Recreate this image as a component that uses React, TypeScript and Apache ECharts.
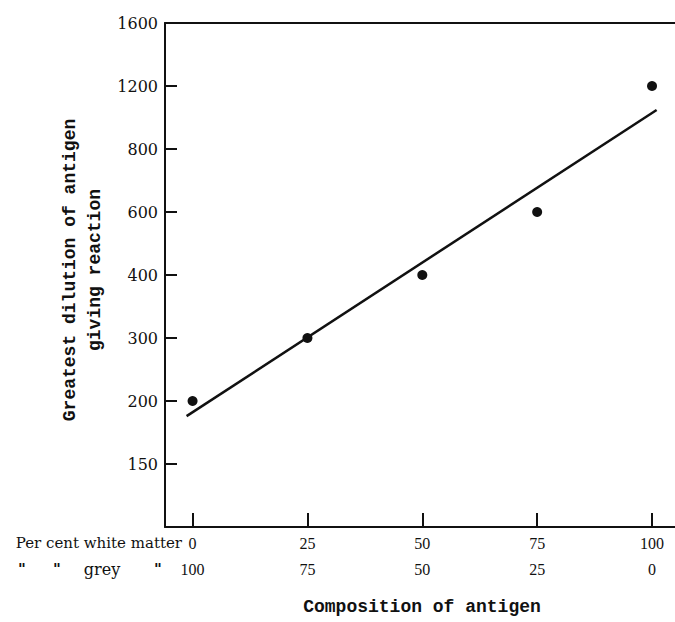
import React, { useEffect, useRef } from "react";
import * as echarts from "echarts";

// Dilution levels shown on the y axis (equally spaced steps, bottom to top)
const yLevels = [150, 200, 300, 400, 600, 800, 1200, 1600];
// Percent white matter (x) and measured greatest dilution
const whiteMatter = [0, 25, 50, 75, 100];
const dilution = [200, 300, 400, 600, 1200];
// Fitted line endpoints, [percent white matter, dilution step position]
const fitLine: [number, number][] = [
  [-1.3, 0.76],
  [101, 5.62],
];
const xTicks = [0, 25, 50, 75, 100];

export default function App() {
  const ref = useRef<HTMLDivElement>(null);
  useEffect(() => {
    if (!ref.current) return;
    document.body.style.margin = "0";
    document.body.style.overflow = "hidden";
    const chart = echarts.init(ref.current, null, { renderer: "svg" });
    const ink = "#111";
    const points = whiteMatter.map((x, i) => [x, yLevels.indexOf(dilution[i])]);
    const ditto = (x: number) => ({
      type: "text",
      x,
      y: 569,
      style: { text: "\"", align: "center", verticalAlign: "middle", fontFamily: "DejaVu Serif", fontWeight: "bold", fontSize: 15, fill: ink },
    });
    chart.setOption({
      animation: false,
      backgroundColor: "#fff",
      grid: { left: 165, top: 23, right: 0, bottom: 95, containLabel: false, outerBoundsMode: "none" },
      xAxis: [
        {
          type: "value",
          min: -6,
          max: 105,
          splitLine: { show: false },
          axisLine: { show: true, onZero: false, lineStyle: { color: ink, width: 2 } },
          axisTick: {
            show: true,
            inside: true,
            length: 14,
            customValues: xTicks,
            lineStyle: { color: ink, width: 2 },
          },
          axisLabel: {
            customValues: xTicks,
            margin: 3,
            formatter: (v: number) => `${v}\n${100 - v}`,
            color: ink,
            fontFamily: "Liberation Serif",
            fontSize: 16,
            lineHeight: 26,
          },
        },
        {
          type: "value",
          position: "top",
          min: -6,
          max: 105,
          splitLine: { show: false },
          axisLine: { show: true, onZero: false, lineStyle: { color: ink, width: 2 } },
          axisTick: { show: false },
          axisLabel: { show: false },
        },
      ],
      yAxis: {
        type: "value",
        min: -1,
        max: 7,
        interval: 1,
        splitLine: { show: false },
        axisLine: { show: true, onZero: false, lineStyle: { color: ink, width: 2 } },
        axisTick: {
          show: true,
          inside: true,
          length: 12,
          customValues: [0, 1, 2, 3, 4, 5, 6],
          lineStyle: { color: ink, width: 2 },
        },
        axisLabel: {
          customValues: [0, 1, 2, 3, 4, 5, 6, 7],
          margin: 7,
          formatter: (v: number) => (yLevels[v] !== undefined ? String(yLevels[v]) : ""),
          color: ink,
          fontFamily: "DejaVu Serif",
          fontSize: 16,
        },
      },
      series: [
        {
          type: "line",
          data: fitLine,
          showSymbol: false,
          lineStyle: { color: ink, width: 2.5 },
        },
        {
          type: "scatter",
          data: points,
          symbolSize: 10,
          itemStyle: { color: ink, opacity: 1 },
        },
      ],
      graphic: [
        {
          type: "text",
          x: 82,
          y: 270,
          rotation: Math.PI / 2,
          style: {
            text: "Greatest dilution of antigen\ngiving reaction",
            align: "center",
            verticalAlign: "middle",
            fontFamily: "Liberation Mono",
            fontWeight: "bold",
            fontSize: 18,
            lineHeight: 25,
            fill: ink,
          },
        },
        {
          type: "text",
          x: 422,
          y: 607,
          style: {
            text: "Composition of antigen",
            align: "center",
            verticalAlign: "middle",
            fontFamily: "Liberation Mono",
            fontWeight: "bold",
            fontSize: 18,
            fill: ink,
          },
        },
        {
          type: "text",
          x: 182,
          y: 543,
          style: {
            text: "Per cent white matter",
            align: "right",
            verticalAlign: "middle",
            fontFamily: "DejaVu Serif",
            fontSize: 15,
            fill: ink,
          },
        },
        ditto(22),
        ditto(57),
        {
          type: "text",
          x: 102,
          y: 569,
          style: { text: "grey", align: "center", verticalAlign: "middle", fontFamily: "DejaVu Serif", fontSize: 16, fill: ink },
        },
        ditto(158),
      ],
    });
    return () => chart.dispose();
  }, []);
  return <div ref={ref} style={{ position: "absolute", left: 0, top: 0, width: 675, height: 622 }} />;
}
